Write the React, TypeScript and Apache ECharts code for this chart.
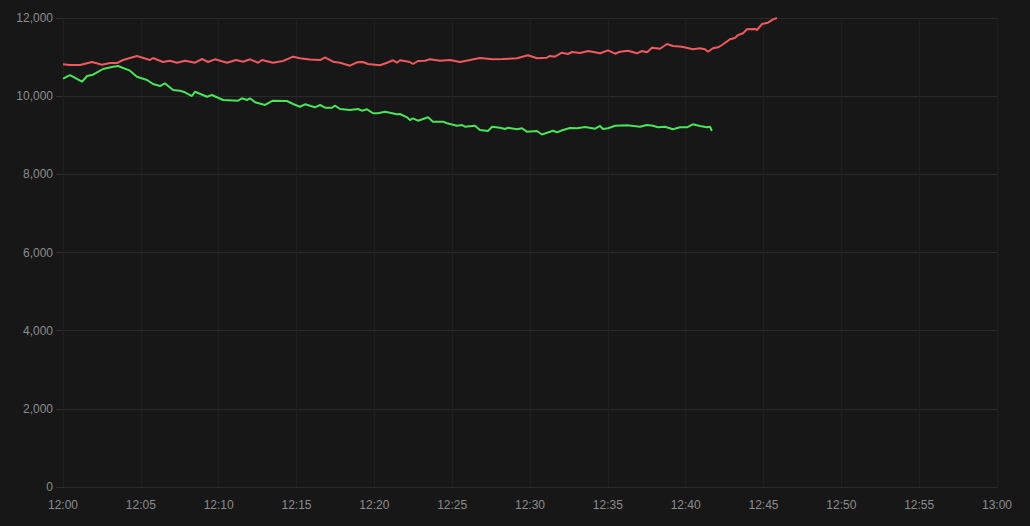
import React, { useEffect, useRef } from "react";
import * as echarts from "echarts";

// seconds after 12:00 and values
const redSeconds = [0, 27, 66, 112, 150, 181, 208, 231, 285, 335, 347, 385, 412, 439, 470, 509, 536, 559, 586, 632, 667, 694, 721, 752, 767, 809, 848, 887, 913, 952, 991, 1010, 1041, 1068, 1106, 1133, 1156, 1176, 1222, 1249, 1272, 1287, 1299, 1337, 1349, 1368, 1395, 1415, 1453, 1492, 1530, 1569, 1607, 1657, 1696, 1750, 1792, 1827, 1865, 1877, 1896, 1923, 1946, 1962, 1993, 2024, 2070, 2101, 2128, 2147, 2178, 2212, 2232, 2251, 2270, 2301, 2328, 2351, 2386, 2428, 2455, 2474, 2486, 2505, 2525, 2540, 2571, 2590, 2602, 2621, 2636, 2667, 2675, 2694, 2717, 2737, 2752];
const redValues = [10815, 10797, 10797, 10874, 10805, 10848, 10848, 10925, 11028, 10925, 10976, 10874, 10907, 10856, 10907, 10856, 10951, 10874, 10943, 10856, 10925, 10882, 10943, 10856, 10925, 10856, 10900, 11010, 10969, 10938, 10925, 10994, 10882, 10856, 10779, 10866, 10874, 10823, 10790, 10856, 10918, 10856, 10918, 10874, 10823, 10900, 10907, 10943, 10907, 10925, 10874, 10925, 10976, 10943, 10951, 10969, 11045, 10969, 10984, 11028, 11010, 11112, 11079, 11130, 11104, 11155, 11097, 11173, 11086, 11137, 11163, 11097, 11155, 11122, 11240, 11214, 11335, 11283, 11266, 11199, 11225, 11199, 11137, 11225, 11250, 11309, 11455, 11488, 11565, 11608, 11711, 11718, 11693, 11846, 11880, 11966, 12000];

const greenSeconds = [0, 27, 73, 93, 116, 154, 193, 212, 258, 285, 324, 347, 374, 393, 424, 451, 470, 497, 509, 555, 574, 617, 675, 690, 709, 721, 740, 779, 809, 863, 887, 913, 933, 971, 991, 1010, 1037, 1048, 1068, 1106, 1137, 1152, 1172, 1195, 1214, 1241, 1287, 1299, 1326, 1337, 1349, 1368, 1407, 1426, 1465, 1480, 1519, 1538, 1549, 1588, 1607, 1638, 1654, 1684, 1704, 1715, 1750, 1769, 1788, 1827, 1846, 1889, 1904, 1927, 1954, 1981, 2012, 2051, 2070, 2081, 2101, 2128, 2174, 2224, 2251, 2274, 2293, 2320, 2351, 2378, 2405, 2428, 2455, 2482, 2494, 2501];
const greenValues = [10447, 10541, 10370, 10516, 10549, 10695, 10754, 10772, 10652, 10498, 10414, 10311, 10260, 10329, 10158, 10140, 10099, 10004, 10114, 9986, 10030, 9902, 9884, 9945, 9902, 9945, 9843, 9774, 9884, 9876, 9799, 9730, 9792, 9715, 9774, 9705, 9705, 9756, 9672, 9646, 9672, 9628, 9664, 9562, 9562, 9603, 9536, 9544, 9459, 9390, 9434, 9372, 9459, 9347, 9347, 9306, 9244, 9262, 9219, 9244, 9134, 9109, 9219, 9193, 9160, 9193, 9152, 9178, 9091, 9109, 9019, 9116, 9075, 9134, 9185, 9178, 9211, 9168, 9237, 9160, 9178, 9244, 9254, 9219, 9262, 9244, 9203, 9219, 9152, 9203, 9203, 9280, 9237, 9203, 9219, 9109];

const yTicks = { min: 0, max: 12000, interval: 2000 };

const base = new Date(2024, 0, 1, 12, 0, 0).getTime();
const pairs = (secs: number[], vals: number[]) => secs.map((s, i) => [base + s * 1000, vals[i]]);

export default function App() {
  const ref = useRef<HTMLDivElement>(null);
  useEffect(() => {
    const chart = echarts.init(ref.current!, null, { renderer: "svg" });
    const labelColor = "#8c8c8c";
    chart.setOption({
      animation: false,
      backgroundColor: "#171717",
      grid: { left: 63, right: 33, top: 18, bottom: 39, containLabel: false },
      xAxis: {
        type: "time",
        min: base,
        max: base + 3600 * 1000,
        interval: 300 * 1000,
        axisLine: { show: true, lineStyle: { color: "#2a2a2a" } },
        axisTick: { show: false },
        splitLine: { show: true, lineStyle: { color: "#1f1f1f", width: 1 } },
        axisLabel: {
          color: labelColor,
          fontSize: 12,
          fontFamily: "Liberation Sans, Arial, sans-serif",
          margin: 12,
          showMinLabel: true,
          showMaxLabel: true,
          formatter: (v: number) => {
            const d = new Date(v);
            return String(d.getHours()).padStart(2, "0") + ":" + String(d.getMinutes()).padStart(2, "0");
          },
        },
      },
      yAxis: {
        type: "value",
        min: yTicks.min,
        max: yTicks.max,
        interval: yTicks.interval,
        axisLine: { show: false },
        axisTick: { show: true, length: 7, lineStyle: { color: "#2e2e2e" } },
        splitLine: { show: true, lineStyle: { color: "#2a2a2a", width: 1 } },
        axisLabel: {
          color: labelColor,
          fontSize: 12,
          fontFamily: "Liberation Sans, Arial, sans-serif",
          margin: 10,
          formatter: (v: number) => v.toLocaleString("en-US"),
        },
      },
      series: [
        {
          type: "line",
          data: pairs(redSeconds, redValues),
          showSymbol: false,
          symbol: "none",
          lineStyle: { color: "#f05a5e", width: 2 },
          itemStyle: { color: "#f05a5e" },
        },
        {
          type: "line",
          data: pairs(greenSeconds, greenValues),
          showSymbol: false,
          symbol: "none",
          lineStyle: { color: "#4be35a", width: 2 },
          itemStyle: { color: "#4be35a" },
        },
      ],
    });
    return () => chart.dispose();
  }, []);
  return (
    <div
      ref={ref}
      style={{ position: "fixed", left: 0, top: 0, width: 1030, height: 526 }}
    />
  );
}
